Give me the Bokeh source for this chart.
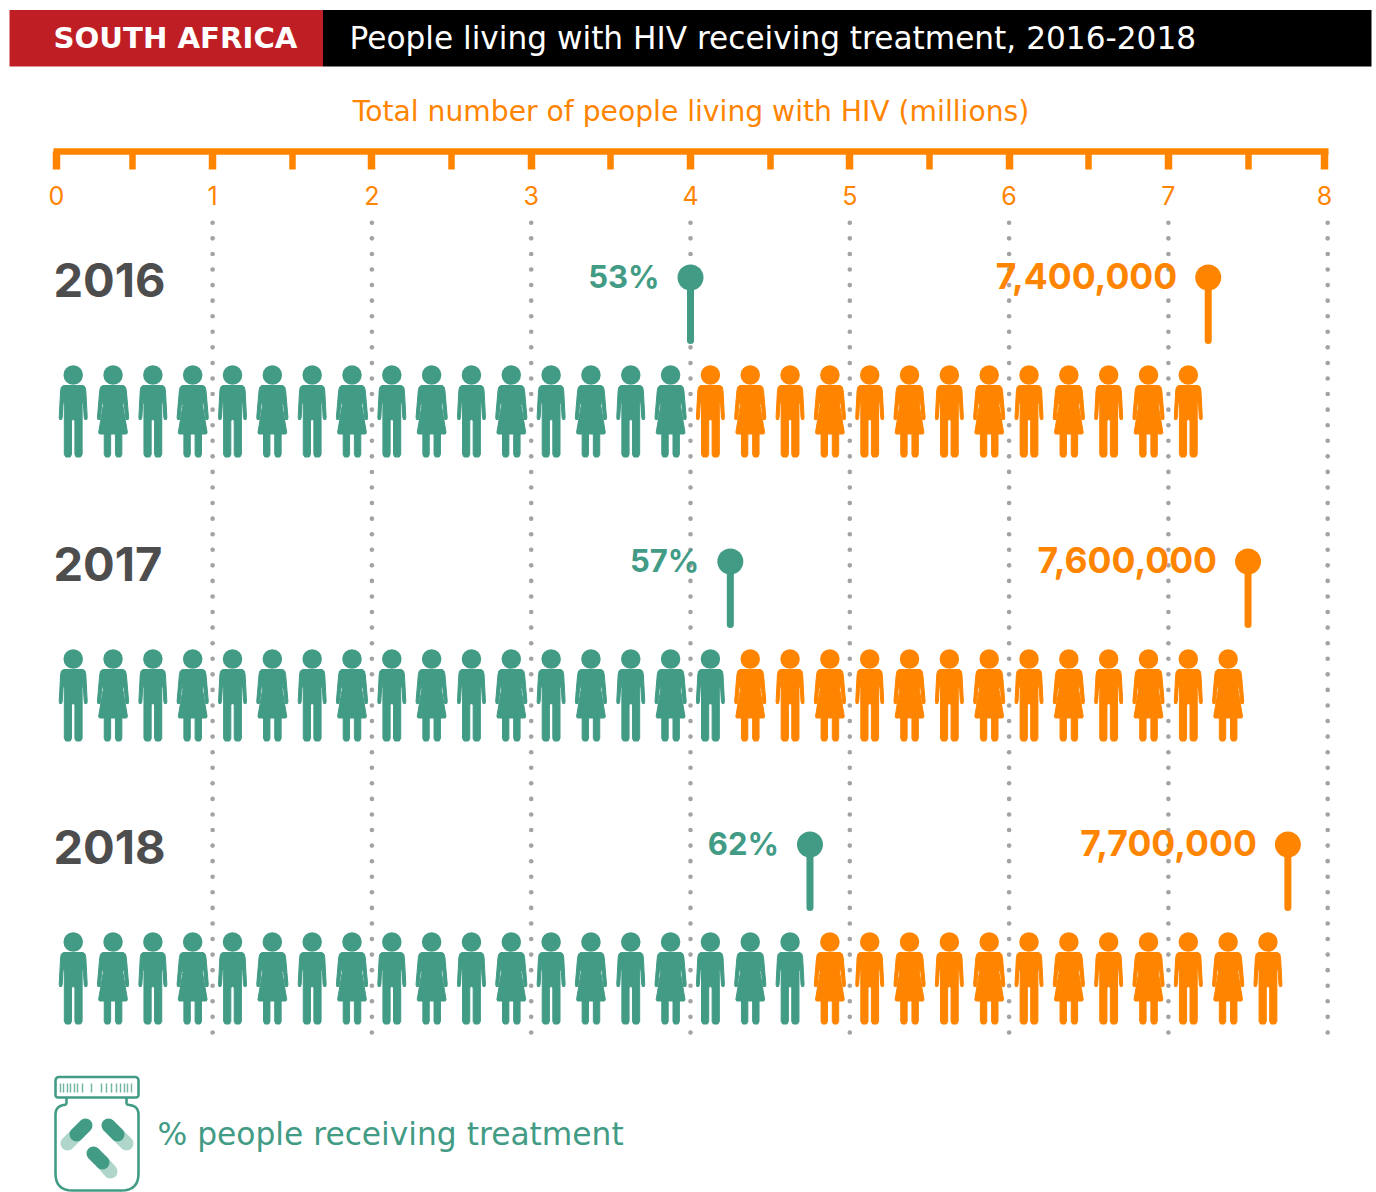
import numpy as np
from bokeh.plotting import figure
from bokeh.models import Range1d, LinearAxis, FixedTicker
from bokeh.core.properties import value
from bokeh.embed import file_html
from bokeh.resources import INLINE

# ---- data ----
years = ["2016", "2017", "2018"]
total_people = [29, 30, 31]          # icons per row (1 icon = 0.25 million)
treated_people = [16, 17, 19]
pin_treated = [4.0, 4.25, 4.75]      # millions, as placed on the scale
pin_total = [7.25, 7.5, 7.75]
labels_treated = ["53%", "57%", "62%"]
labels_total = ["7,400,000", "7,600,000", "7,700,000"]
scale_labels = ["0", "1", "2", "3", "4", "5", "6", "7", "8"]
header_left = "SOUTH AFRICA"
header_right = "People living with HIV receiving treatment, 2016-2018"
scale_title = "Total number of people living with HIV (millions)"
legend_text = "% people receiving treatment"

TEAL, ORANGE, RED, GREY, DOT = "#429b85", "#ff8400", "#bf1e25", "#4d4d4d", "#a3a3a3"
UNIT = 159.3        # pixels per million
ZERO = 52.8         # page x of zero
W, H = 1376, 1192


def X(px):
    return (px - ZERO) / UNIT


def DX(px):
    return np.asarray(px, dtype=float) / UNIT


p = figure(width=W, height=H, output_backend="svg", toolbar_location=None,
           x_axis_location=None, y_axis_location=None, min_border=0,
           outline_line_color=None, background_fill_color="white",
           x_range=Range1d(X(0), X(W)), y_range=Range1d(H, 0))
p.grid.visible = False

# header
p.quad(left=[X(9)], right=[X(322.5)], top=[9.5], bottom=[66], color=RED, line_color=None)
p.quad(left=[X(322.5)], right=[X(1371)], top=[9.5], bottom=[66], color="black", line_color=None)


def txt(px, y, s, size, color, style="normal", align="left", font="DejaVu Sans"):
    p.text(x=[X(px)], y=[y], text=[s], text_font=value(font), text_font_size=f"{size}px",
           text_font_style=style, text_color=color, text_align=align, text_baseline="middle")


txt(53, 37.5, header_left, 29.2, "white", "bold")
txt(349, 37.5, header_right, 31.2, "white")
txt(690.5, 111, scale_title, 28.2, ORANGE, "normal", "center")

# dotted guides
dot_y = 222.3 + 15.57 * np.arange(53)
for v in range(1, 9):
    p.scatter(x=[v] * len(dot_y), y=dot_y, marker="circle", size=4.6, color=DOT, line_color=None)

# scale on the top
major = [0.02, 1, 2, 3, 4, 5, 6, 7, 7.98]
axis = LinearAxis(fixed_location=150.5, bounds=(0, 8.006))
axis.ticker = FixedTicker(ticks=major, minor_ticks=[0.5 + i for i in range(8)])
axis.major_label_overrides = {t: s for t, s in zip(major, scale_labels)}
axis.axis_line_color = ORANGE
axis.axis_line_width = 6.5
axis.major_tick_line_color = ORANGE
axis.major_tick_line_width = 7.5
axis.major_tick_out = 18
axis.major_tick_in = 0
axis.minor_tick_line_color = ORANGE
axis.minor_tick_line_width = 6.5
axis.minor_tick_out = 18
axis.minor_tick_in = 0
axis.major_label_text_color = ORANGE
axis.major_label_text_font = "Inter"
axis.major_label_text_font_size = "25px"
axis.major_label_standoff = 17
p.add_layout(axis, "below")

# person pictograms: right-hand half of each outline, mirrored around the centre line
MAN_HALF = [(0, 385), (9.8, 385), (11.8, 386.5), (12.6, 390), (14, 417), (13.6, 419), (11.6, 419), (11, 417),
            (10, 400), (8.9, 404), (8.9, 454), (7.4, 456.5), (3, 456.5), (1.7, 454), (1.7, 420), (0, 419)]
WOMAN_HALF = [(0, 385), (10.4, 385), (12.4, 386.5), (13.3, 390), (15.6, 417), (15.2, 419), (13, 419), (12.6, 417),
              (10.8, 400), (9.8, 405), (14.4, 432), (13.6, 433.5), (8.8, 433.5), (8.8, 454), (7.5, 456.5),
              (3.7, 456.5), (2.4, 454), (2.4, 433.5), (0, 433.5)]


def mirrored(half):
    return half + [(-a, b) for a, b in reversed(half[1:-1])]


MAN = mirrored(MAN_HALF)
WOMAN = mirrored(WOMAN_HALF)

ROW_OFFSETS = [0, 284, 567]
for r, (n, t) in enumerate(zip(total_people, treated_people)):
    dy = ROW_OFFSETS[r]
    for col_name, idx in ((TEAL, range(t)), (ORANGE, range(t, n))):
        idx = list(idx)
        cx = [(i + 0.5) * 0.25 for i in idx]
        xs, ys = [], []
        for i, c in zip(idx, cx):
            shape = WOMAN if i % 2 else MAN
            xs.append([c + DX(a) for a, _ in shape])
            ys.append([b + dy for _, b in shape])
        p.patches(xs, ys, fill_color=col_name, line_color=col_name, line_width=1.0, line_join="round")
        p.scatter(x=cx, y=[374.5 + dy] * len(cx), marker="circle", size=19.5, color=col_name, line_color=None)

    # year label
    txt(53, 279.5 + dy, years[r], 47, GREY, "bold", font="Inter")
    # pins
    p.segment(x0=[pin_treated[r]], x1=[pin_treated[r]], y0=[277 + dy], y1=[340 + dy],
              line_color=TEAL, line_width=7, line_cap="round")
    p.scatter(x=[pin_treated[r]], y=[277 + dy], marker="circle", size=26, color=TEAL, line_color=None)
    txt(ZERO + pin_treated[r] * UNIT - 31, 275.5 + dy, labels_treated[r], 31, TEAL, "bold", "right", font="Inter")
    p.segment(x0=[pin_total[r]], x1=[pin_total[r]], y0=[277 + dy], y1=[340 + dy],
              line_color=ORANGE, line_width=7, line_cap="round")
    p.scatter(x=[pin_total[r]], y=[277 + dy], marker="circle", size=26, color=ORANGE, line_color=None)
    txt(ZERO + pin_total[r] * UNIT - 31, 275.5 + dy, labels_total[r], 35.5, ORANGE, "bold", "right", font="Inter")


# legend jar
def round_path(points, radii):
    out_x, out_y = [], []
    pts = [np.array(a, float) for a in points]
    for k, pt in enumerate(pts):
        rad = radii[k]
        if rad == 0 or k in (0, len(pts) - 1):
            out_x.append(pt[0]); out_y.append(pt[1])
            continue
        a = pt + (pts[k - 1] - pt) / np.linalg.norm(pts[k - 1] - pt) * rad
        b = pt + (pts[k + 1] - pt) / np.linalg.norm(pts[k + 1] - pt) * rad
        for s in np.linspace(0, 1, 9):
            q = (1 - s) ** 2 * a + 2 * s * (1 - s) * pt + s ** 2 * b
            out_x.append(q[0]); out_y.append(q[1])
    return [X(a) for a in out_x], out_y


jx, jy = round_path([(66, 1097), (66, 1104), (55, 1106), (55, 1190), (138, 1190), (138, 1106), (126, 1104), (126, 1097)],
                    [0, 2, 8, 17, 17, 8, 2, 0])
p.line(jx, jy, line_color=TEAL, line_width=2.6, line_join="round")
lx, ly = round_path([(75, 1076.5), (138, 1076.5), (138, 1097), (55, 1097), (55, 1076.5), (75, 1076.5)],
                    [0, 4, 3, 3, 4, 0])
p.line(lx, ly, line_color=TEAL, line_width=2.6, line_join="round")
tick_x = [60, 63, 67, 70, 74, 77, 82, 91, 101, 106, 111, 116, 120, 124, 127, 131]
p.segment(x0=[X(a) for a in tick_x], x1=[X(a) for a in tick_x], y0=[1083] * 16, y1=[1092] * 16,
          line_color=TEAL, line_width=1.4, line_alpha=0.75)
pills = [((85, 1125), (76, 1134), (67, 1143)),
         ((108, 1125), (117, 1134), (126, 1143)),
         ((93, 1153), (102, 1162), (110, 1171))]
for a, m, b in pills:
    p.segment(x0=[X(m[0])], y0=[m[1]], x1=[X(b[0])], y1=[b[1]], line_color="#b0d6cb", line_width=14, line_cap="round")
    p.segment(x0=[X(a[0])], y0=[a[1]], x1=[X(m[0])], y1=[m[1]], line_color=TEAL, line_width=14, line_cap="round")
txt(157, 1133, legend_text, 31.3, TEAL)

open("out.html", "w").write(file_html(p, INLINE))
